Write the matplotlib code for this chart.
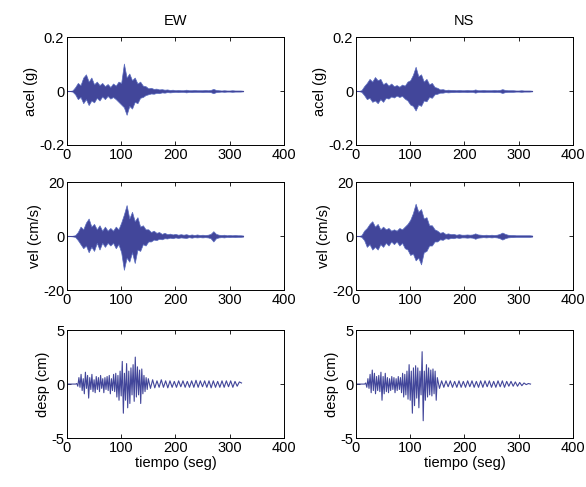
import numpy as np
import matplotlib
matplotlib.use("Agg")
import matplotlib.pyplot as plt

plt.rcParams['font.family'] = ['Liberation Sans', 'DejaVu Sans']

# envelope samples every 5 s (0 ... 325 s) for acel / vel
t_env = np.arange(0, 326, 5)

acel_ew_up = [0, 0, 0.002, 0.014, 0.03, 0.022, 0.05, 0.062, 0.035, 0.05,
              0.025, 0.035, 0.022, 0.03, 0.018, 0.026, 0.015, 0.028, 0.02, 0.035,
              0.03, 0.102, 0.05, 0.065, 0.04, 0.05, 0.028, 0.035, 0.02, 0.018,
              0.01, 0.012, 0.008, 0.009, 0.006, 0.007, 0.005, 0.006, 0.004, 0.005,
              0.003, 0.004, 0.003, 0.003, 0.005, 0.003, 0.003, 0.004, 0.003, 0.003,
              0.003, 0.004, 0.003, 0.004, 0.008, 0.004, 0.003, 0.002, 0.003, 0.002,
              0.002, 0.003, 0.002, 0.002, 0.002, 0.001]
acel_ew_lo = [0, 0, -0.002, -0.012, -0.03, -0.022, -0.045, -0.03, -0.052, -0.035,
              -0.042, -0.025, -0.035, -0.02, -0.03, -0.018, -0.028, -0.022, -0.03, -0.04,
              -0.05, -0.06, -0.088, -0.055, -0.065, -0.04, -0.045, -0.025, -0.022, -0.015,
              -0.012, -0.009, -0.01, -0.007, -0.008, -0.005, -0.006, -0.004, -0.005, -0.004,
              -0.003, -0.004, -0.003, -0.003, -0.005, -0.003, -0.004, -0.003, -0.003, -0.003,
              -0.004, -0.003, -0.003, -0.004, -0.008, -0.004, -0.003, -0.002, -0.003, -0.002,
              -0.002, -0.003, -0.002, -0.002, -0.002, -0.001]

acel_ns_up = [0, 0, 0.003, 0.018, 0.03, 0.045, 0.035, 0.052, 0.04, 0.045,
              0.025, 0.032, 0.02, 0.028, 0.018, 0.022, 0.016, 0.024, 0.02, 0.035,
              0.04, 0.06, 0.09, 0.055, 0.062, 0.035, 0.045, 0.025, 0.03, 0.015,
              0.012, 0.006, 0.007, 0.004, 0.005, 0.004, 0.004, 0.003, 0.004, 0.003,
              0.003, 0.004, 0.003, 0.003, 0.006, 0.003, 0.003, 0.004, 0.003, 0.003,
              0.003, 0.004, 0.003, 0.004, 0.007, 0.004, 0.003, 0.003, 0.003, 0.002,
              0.002, 0.003, 0.002, 0.002, 0.002, 0.001]
acel_ns_lo = [0, 0, -0.003, -0.015, -0.03, -0.025, -0.04, -0.035, -0.045, -0.03,
              -0.04, -0.025, -0.028, -0.02, -0.024, -0.017, -0.022, -0.018, -0.028, -0.035,
              -0.05, -0.055, -0.072, -0.05, -0.055, -0.035, -0.038, -0.022, -0.025, -0.012,
              -0.01, -0.006, -0.006, -0.004, -0.005, -0.004, -0.004, -0.003, -0.004, -0.003,
              -0.003, -0.004, -0.003, -0.003, -0.006, -0.003, -0.003, -0.004, -0.003, -0.003,
              -0.003, -0.004, -0.003, -0.004, -0.007, -0.004, -0.003, -0.003, -0.003, -0.002,
              -0.002, -0.003, -0.002, -0.002, -0.002, -0.001]

vel_ew_up = [0, 0, 0.1, 0.3, 1.5, 3.5, 2.5, 5.0, 6.5, 3.5,
             4.5, 2.5, 4.0, 2.0, 3.5, 2.0, 3.0, 2.0, 3.5, 2.5,
             5.0, 8.0, 11.5, 6.5, 9.0, 5.5, 7.0, 3.5, 4.0, 2.5,
             2.5, 1.5, 2.0, 1.2, 1.5, 0.8, 1.2, 0.7, 0.9, 0.6,
             0.8, 0.5, 0.7, 0.5, 0.7, 0.4, 0.6, 0.4, 0.6, 0.4,
             0.5, 0.4, 0.5, 0.8, 1.8, 0.8, 0.5, 0.4, 0.5, 0.3,
             0.4, 0.3, 0.4, 0.3, 0.3, 0.2]
vel_ew_lo = [0, 0, -0.1, -0.3, -1.5, -3.0, -4.5, -3.5, -6.0, -4.0,
             -5.5, -2.5, -5.0, -2.5, -4.0, -2.5, -3.5, -2.5, -4.5, -3.0,
             -6.0, -12.5, -8.0, -9.5, -6.0, -10.0, -5.0, -5.5, -3.0, -3.5,
             -2.0, -2.0, -1.3, -1.5, -1.0, -1.2, -0.8, -0.9, -0.6, -0.8,
             -0.5, -0.7, -0.5, -0.6, -0.7, -0.4, -0.6, -0.4, -0.5, -0.4,
             -0.5, -0.4, -0.5, -0.8, -2.0, -0.8, -0.5, -0.4, -0.5, -0.3,
             -0.4, -0.3, -0.4, -0.3, -0.3, -0.2]

vel_ns_up = [0, 0, 0.3, 2.0, 3.0, 4.5, 5.5, 3.5, 4.5, 2.5,
             3.5, 2.5, 3.0, 2.0, 2.5, 2.0, 3.0, 2.5, 3.5, 4.5,
             6.0, 8.5, 12.0, 9.0, 10.0, 6.5, 7.0, 4.0, 4.0, 2.5,
             2.0, 1.2, 1.5, 0.8, 1.0, 0.7, 0.8, 0.5, 0.7, 0.5,
             0.5, 0.6, 0.5, 0.6, 1.0, 0.6, 0.5, 0.4, 0.5, 0.4,
             0.5, 0.4, 0.5, 0.8, 1.3, 0.8, 0.5, 0.4, 0.4, 0.3,
             0.3, 0.3, 0.3, 0.3, 0.3, 0.2]
vel_ns_lo = [0, 0, -0.3, -1.5, -4.0, -3.0, -5.0, -4.0, -5.0, -3.0,
             -4.0, -2.5, -3.5, -2.0, -3.0, -2.0, -3.5, -2.5, -4.5, -5.0,
             -7.0, -6.5, -9.0, -8.0, -10.5, -6.0, -5.5, -3.5, -3.5, -2.0,
             -2.0, -1.2, -1.4, -0.8, -1.0, -0.7, -0.8, -0.5, -0.7, -0.5,
             -0.5, -0.6, -0.5, -0.6, -1.0, -0.6, -0.5, -0.4, -0.5, -0.4,
             -0.5, -0.4, -0.5, -0.8, -1.3, -0.8, -0.5, -0.4, -0.4, -0.3,
             -0.3, -0.3, -0.3, -0.3, -0.3, -0.2]

# displacement peaks: every 2 s up to 150 s, then every 4 s
t_desp = np.concatenate([np.arange(0, 151, 2), np.arange(154, 323, 4)])

desp_ew = [0, 0, 0, 0, 0, 0, 0, 0, 0, 0.05,
           -0.2, 0.6, -0.3, 0.9, -0.6, 0.5, -0.9, 1.1, -0.4, 0.8,
           -1.3, 0.6, -0.5, 0.9, -0.7, 0.4, -0.8, 0.7, -0.5, 0.6,
           -0.7, 0.8, -0.4, 0.5, -0.8, 0.6, -0.5, 0.7, -0.6, 0.8,
           -0.9, 0.5, -0.6, 0.9, -0.7, 1.0, -1.2, 0.8, -1.5, 1.2,
           -1.1, 2.1, -2.7, 1.0, -1.5, 1.9, -2.2, 1.2, -1.8, 1.5,
           -1.0, 1.8, -1.6, 2.5, -1.2, 1.6, -1.0, 1.3, -1.8, 1.4,
           -0.9, 0.8, -0.7, 0.6, -0.5, 0.5,
           -0.4, 0.4, -0.35, 0.3, -0.3, 0.4, -0.3, 0.3, -0.35, 0.3,
           -0.3, 0.25, -0.3, 0.3, -0.25, 0.3, -0.3, 0.25, -0.3, 0.3,
           -0.3, 0.35, -0.3, 0.3, -0.25, 0.3, -0.3, 0.3, -0.35, 0.3,
           -0.3, 0.25, -0.3, 0.3, -0.3, 0.3, -0.25, 0.3, -0.3, 0.25,
           -0.2, 0.2, 0.1]

desp_ns = [0, 0, 0, 0, 0, 0, 0, 0, 0, 0.1,
           -0.3, 0.5, -0.4, 0.9, -0.8, 1.3, -0.6, 1.0, -0.9, 0.7,
           -0.6, 0.8, -0.7, 1.1, -1.5, 0.7, -0.9, 1.0, -0.7, 0.6,
           -0.8, 0.5, -0.6, 0.7, -0.5, 0.6, -0.8, 0.5, -0.6, 0.7,
           -0.5, 0.6, -0.8, 1.0, -1.2, 0.9, -1.0, 1.2, -1.4, 1.8,
           -1.5, 1.2, -2.7, 1.5, -2.0, 1.7, -1.3, 1.5, -2.2, 1.2,
           -1.0, 3.0, -3.4, 1.2, -1.5, 1.8, -1.2, 1.5, -1.0, 1.3,
           -1.1, 1.4, -0.9, 1.2, -1.5, 0.6,
           -0.4, 0.3, -0.3, 0.3, -0.25, 0.3, -0.3, 0.25, -0.3, 0.3,
           -0.3, 0.25, -0.3, 0.3, -0.25, 0.3, -0.3, 0.25, -0.3, 0.3,
           -0.3, 0.3, -0.25, 0.3, -0.3, 0.25, -0.3, 0.3, -0.25, 0.3,
           -0.3, 0.25, -0.2, 0.25, -0.2, 0.2, -0.2, 0.15, -0.15, 0.1,
           -0.05, 0.05, 0]

FILL = '#42469a'
EDGE = '#5a6cc0'
FS = 10.5

fig = plt.figure(figsize=(5.86, 4.87), dpi=100)

lefts = [0.1143, 0.6075]
bottoms = [0.7023, 0.4045, 0.1006]
w, h = 0.370, 0.2215


def style_ax(ax, ylim, yticks, ylabel):
    ax.set_xlim(0, 400)
    ax.set_ylim(ylim)
    ax.set_xticks([0, 100, 200, 300, 400])
    ax.set_yticks(yticks)
    ax.set_yticklabels([('%g' % v) for v in yticks])
    ax.tick_params(direction='in', top=True, right=True, labelsize=FS,
                   length=3, width=0.6, pad=2)
    for s in ax.spines.values():
        s.set_linewidth(0.7)
    ax.set_ylabel(ylabel, fontsize=FS, labelpad=1)


for col, (name, a_up, a_lo, v_up, v_lo, d) in enumerate([
        ('EW', acel_ew_up, acel_ew_lo, vel_ew_up, vel_ew_lo, desp_ew),
        ('NS', acel_ns_up, acel_ns_lo, vel_ns_up, vel_ns_lo, desp_ns)]):
    ax = fig.add_axes([lefts[col], bottoms[0], w, h])
    ax.fill_between(t_env, a_lo, a_up, facecolor=FILL, edgecolor=EDGE, linewidth=0.5)
    ax.plot([0, 325], [0, 0], color=FILL, linewidth=0.8)
    style_ax(ax, (-0.2, 0.2), [-0.2, 0, 0.2], 'acel (g)')
    ax.set_title(name, fontsize=FS, pad=9)

    ax = fig.add_axes([lefts[col], bottoms[1], w, h])
    ax.fill_between(t_env, v_lo, v_up, facecolor=FILL, edgecolor=EDGE, linewidth=0.5)
    ax.plot([0, 325], [0, 0], color=FILL, linewidth=0.8)
    style_ax(ax, (-20, 20), [-20, 0, 20], 'vel (cm/s)')

    ax = fig.add_axes([lefts[col], bottoms[2], w, h])
    ax.plot(t_desp, d, color=FILL, linewidth=0.8)
    style_ax(ax, (-5, 5), [-5, 0, 5], 'desp (cm)')
    ax.set_xlabel('tiempo (seg)', fontsize=FS, labelpad=1)

fig.savefig('out.png', dpi=100)
